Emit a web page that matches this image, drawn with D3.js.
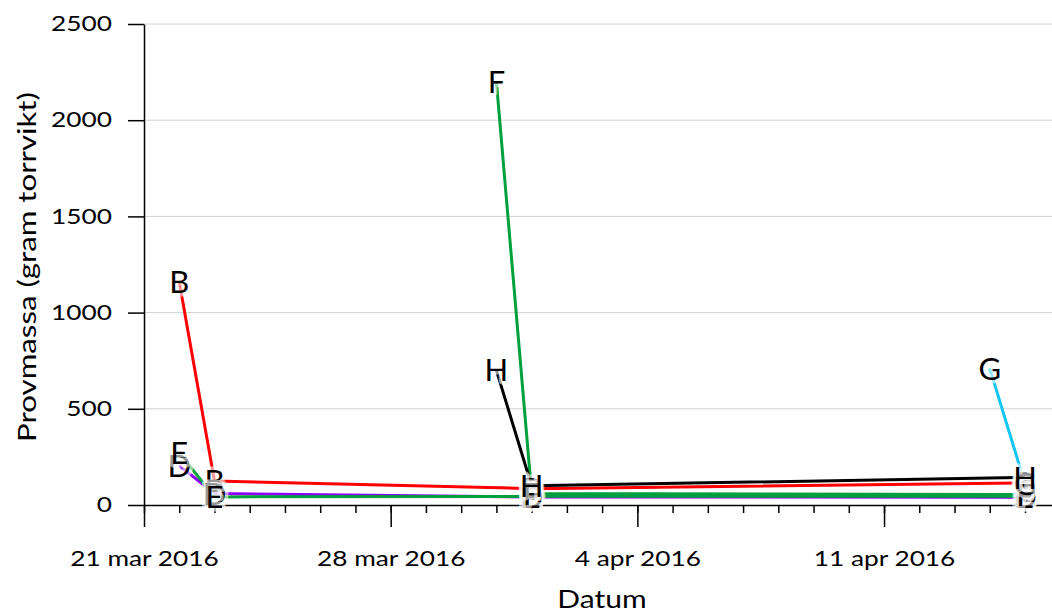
<!DOCTYPE html>
<html>
<head>
<meta charset="utf-8">
<script src="https://cdn.jsdelivr.net/npm/d3@7"></script>
<style>
  html, body { margin: 0; padding: 0; background: #fff; }
  svg { display: block; }
  text { font-family: Lato, "Open Sans", sans-serif; }
</style>
</head>
<body>
<script>
// Sampling dates (UTC) shared by all series
const sampleDates = ["2016-03-22", "2016-03-23", "2016-03-31", "2016-04-01", "2016-04-14", "2016-04-15"];

// Sample mass per series (gram torrvikt); null = not sampled that day
const seriesNames = ["B", "C", "D", "E", "F", "G", "H"];
const seriesB = [1160, 125, null, 85, null, 115];
const seriesC = [null, null, null, null, null, 75];
const seriesD = [205, 60, null, 42, null, 40];
const seriesE = [270, 42, null, 45, null, 45];
const seriesF = [null, null, 2200, 60, null, 55];
const seriesG = [null, null, null, null, 710, 110];
const seriesH = [null, null, 700, 100, null, 143];
const seriesColors = ["#ff0000", "#9e9e9e", "#8c00ff", "#00a03c", "#00a03c", "#10c4f4", "#000000"];

// Axis ticks
const yTicks = [0, 500, 1000, 1500, 2000, 2500];
const xTickDates = ["2016-03-21", "2016-03-28", "2016-04-04", "2016-04-11"];
const xTickLabels = ["21 mar 2016", "28 mar 2016", "4 apr 2016", "11 apr 2016"];

(function draw() {
  const W = 1052, H = 612;
  const plotLeft = 144, plotTop = 24, plotBottom = 505;
  const dayPx = 35.24;

  const parse = s => new Date(s + "T00:00:00Z");
  const allValues = [seriesB, seriesC, seriesD, seriesE, seriesF, seriesG, seriesH];

  const svg = d3.select("body").append("svg").attr("width", W).attr("height", H);

  const start = parse("2016-03-21");
  const end = parse("2016-04-17");
  const x = d3.scaleUtc().domain([start, end]).range([plotLeft, plotLeft + 27 * dayPx]);
  const y = d3.scaleLinear().domain([0, 2500]).range([plotBottom, plotTop]);

  // Horizontal gridlines
  svg.append("g").selectAll("line")
    .data(yTicks.filter(t => t > 0))
    .join("line")
    .attr("x1", plotLeft).attr("x2", W)
    .attr("y1", d => y(d)).attr("y2", d => y(d))
    .attr("stroke", "#d2d2d2").attr("stroke-width", 1);

  // Y axis
  const sx = 1.25;
  const yAxis = svg.append("g").attr("transform", `translate(${plotLeft},0)`)
    .call(d3.axisLeft(y).tickValues(yTicks).tickSize(16).tickSizeOuter(0).tickFormat(d3.format("d")));
  yAxis.selectAll("line, path").attr("stroke", "#000").attr("stroke-width", 1.5);
  yAxis.selectAll("text")
    .attr("x", -32 / sx)
    .attr("transform", `scale(${sx},1)`)
    .attr("fill", "#000")
    .style("font-size", "21px");

  // X axis: daily minor ticks, weekly major ticks with labels
  const minor = svg.append("g").attr("transform", `translate(0,${plotBottom})`)
    .call(d3.axisBottom(x).ticks(d3.utcDay.every(1)).tickSize(8).tickSizeOuter(0).tickFormat(""));
  minor.selectAll("line, path").attr("stroke", "#000").attr("stroke-width", 1.5);

  const major = svg.append("g").attr("transform", `translate(0,${plotBottom})`)
    .call(d3.axisBottom(x).tickValues(xTickDates.map(parse)).tickSize(22).tickSizeOuter(0)
      .tickFormat((d, i) => xTickLabels[i]));
  major.select("path").remove();
  major.selectAll("line").attr("stroke", "#000").attr("stroke-width", 1.5);
  major.selectAll("text")
    .attr("y", 61).attr("dy", 0)
    .attr("transform", `scale(${sx},1)`)
    .attr("fill", "#000")
    .style("font-size", "21px");

  // Series lines
  const line = d3.line().x(d => x(d.date)).y(d => y(d.value));
  const series = seriesNames.map((name, i) => ({
    name,
    color: seriesColors[i],
    points: sampleDates.map((s, j) => ({ date: parse(s), value: allValues[i][j] }))
      .filter(p => p.value !== null)
  }));

  svg.append("g").selectAll("path")
    .data(series)
    .join("path")
    .attr("d", d => line(d.points))
    .attr("fill", "none")
    .attr("stroke", d => d.color)
    .attr("stroke-width", 3)
    .attr("stroke-linejoin", "round");

  // Letter markers at each sample
  const labelSize = 31;
  const markers = svg.append("g");
  series.forEach(s => {
    s.points.forEach(p => {
      markers.append("text")
        .attr("x", x(p.date))
        .attr("y", y(p.value) + 0.36 * labelSize)
        .attr("text-anchor", "middle")
        .style("font-size", labelSize + "px")
        .attr("fill", "#000")
        .attr("stroke", "#fff")
        .attr("stroke-opacity", 0.6)
        .attr("stroke-width", 7)
        .attr("stroke-linejoin", "round")
        .attr("paint-order", "stroke")
        .text(s.name);
    });
  });

  // Axis titles
  svg.append("text")
    .attr("transform", `translate(36,267) rotate(-90) scale(${sx},1)`)
    .attr("text-anchor", "middle")
    .style("font-size", "25px")
    .attr("fill", "#000")
    .text("Provmassa (gram torrvikt)");

  svg.append("text")
    .attr("transform", `translate(602,608) scale(1.2,1)`)
    .attr("text-anchor", "middle")
    .style("font-size", "25px")
    .attr("fill", "#000")
    .text("Datum");
})();
</script>
</body>
</html>
